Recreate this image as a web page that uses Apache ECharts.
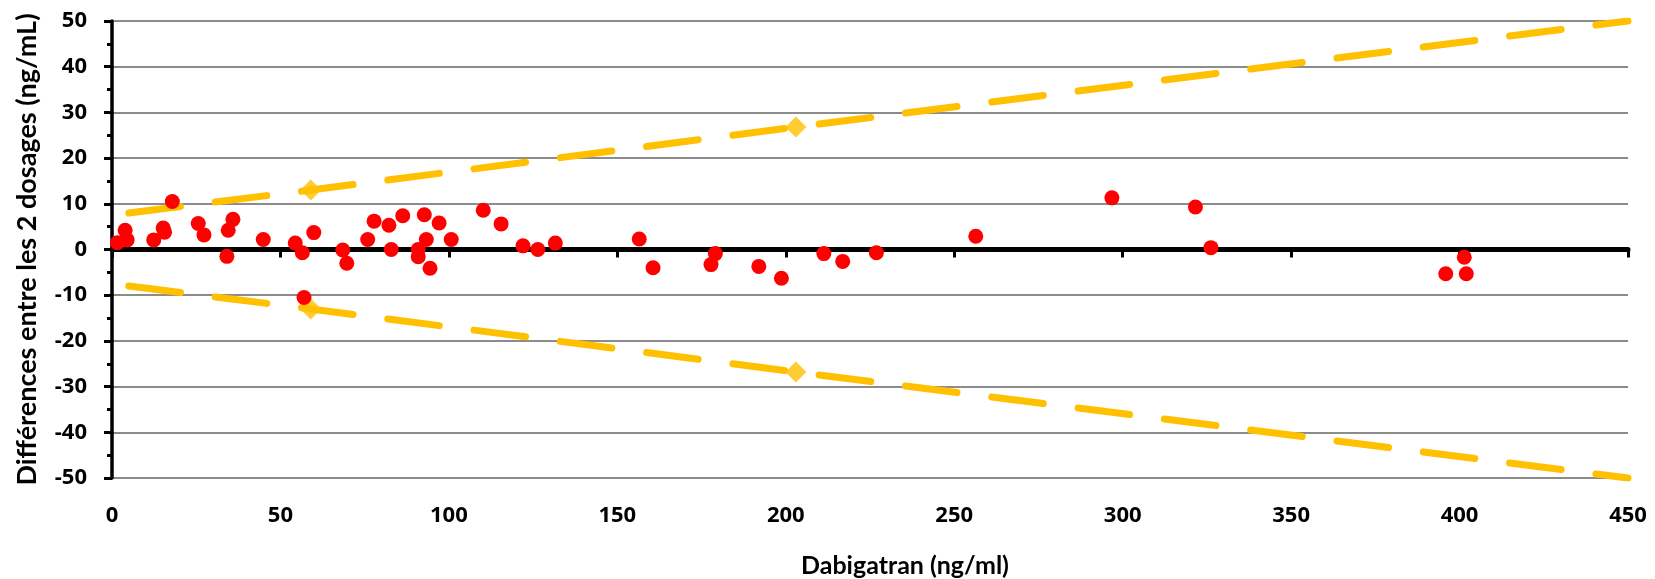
<!DOCTYPE html>
<html>
<head>
<meta charset="utf-8">
<title>Dabigatran - différences</title>
<script src="https://cdn.jsdelivr.net/npm/echarts@6.0.0/dist/echarts.min.js"></script>
<style>
  html, body { margin: 0; padding: 0; background: #fff; }
  #chart { width: 1655px; height: 579px; }
</style>
</head>
<body>
<div id="chart"></div>
<script>
// concentration (ng/ml) et différence entre les 2 dosages
var dabigatran = [1.6, 3.9, 4.5, 12.4, 15.2, 15.6, 17.9, 25.6, 27.3, 34.1, 34.5, 35.9, 44.9,
  54.4, 56.5, 57.0, 59.9, 68.5, 69.7, 75.9, 77.8, 82.2, 82.9, 86.3, 90.9, 90.9, 92.7, 93.3,
  94.4, 97.1, 100.7, 110.2, 115.5, 122.0, 126.4, 131.6, 156.5, 160.6, 177.8, 179.1, 192.0,
  198.7, 211.3, 216.9, 226.9, 256.4, 296.8, 321.6, 326.2, 395.9, 401.4, 402.0];
var differences = [1.5, 4.2, 2.1, 2.1, 4.7, 3.8, 10.5, 5.7, 3.2, -1.5, 4.2, 6.6, 2.2,
  1.4, -0.7, -10.5, 3.7, -0.1, -3.0, 2.2, 6.2, 5.3, 0.0, 7.4, 0.0, -1.6, 7.6, 2.2,
  -4.1, 5.8, 2.2, 8.6, 5.6, 0.8, 0.0, 1.4, 2.3, -4.0, -3.3, -0.9, -3.7,
  -6.3, -0.9, -2.6, -0.7, 2.9, 11.3, 9.3, 0.4, -5.3, -1.7, -5.3];

// limites d'acceptation
var limitX = [5, 59, 203, 450];
var upperLimit = [8.0, 13.0, 26.8, 50];
var lowerLimit = [-8.0, -13.0, -26.8, -50];
var markerX = [59, 203];
var markerUpper = [13.0, 26.8];
var markerLower = [-13.0, -26.8];

function pairs(xs, ys) {
  return xs.map(function (x, i) { return [x, ys[i]]; });
}

var tickFont = "'Open Sans', sans-serif";
var titleFont = "Lato, 'Open Sans', sans-serif";
var yellow = "#FFC000";

var myChart = echarts.init(document.getElementById("chart"));
myChart.setOption({
  animation: false,
  grid: {
    left: 112,
    right: 27,
    top: 21,
    bottom: 101,
    containLabel: false,
    outerBoundsMode: "none",
  },
  xAxis: [
    {
      // labels en bas
      type: "value",
      position: "bottom",
      min: 0,
      max: 450,
      interval: 50,
      name: "Dabigatran (ng/ml)",
      nameLocation: "middle",
      nameGap: 75,
      nameTextStyle: {
        fontFamily: titleFont,
        fontSize: 25,
        fontWeight: "bold",
        color: "#000",
        padding: [0, 0, 0, 70],
      },
      axisLine: { show: false, onZero: false },
      axisTick: { show: false },
      splitLine: { show: false },
      axisLabel: {
        margin: 27,
        fontFamily: tickFont,
        fontSize: 22,
        fontWeight: "bold",
        color: "#000",
      },
    },
    {
      // axe noir sur zéro
      type: "value",
      position: "bottom",
      min: 0,
      max: 450,
      interval: 50,
      axisLine: { show: true, onZero: true, lineStyle: { color: "#000", width: 5 } },
      axisTick: { show: true, length: 8, lineStyle: { color: "#000", width: 3 } },
      axisLabel: { show: false },
      splitLine: { show: false },
    },
  ],
  yAxis: {
    type: "value",
    min: -50,
    max: 50,
    interval: 10,
    name: "Différences entre les 2 dosages (ng/mL)",
    nameLocation: "middle",
    nameGap: 71,
    nameTextStyle: {
      fontFamily: titleFont,
      fontSize: 27,
      fontWeight: "bold",
      color: "#000",
    },
    axisLine: { show: true, onZero: false, lineStyle: { color: "#000", width: 3.5 } },
    axisTick: { show: true, length: 8, lineStyle: { color: "#000", width: 3 } },
    minorTick: { show: true, splitNumber: 2, length: 5, lineStyle: { color: "#000", width: 3 } },
    splitLine: { show: true, lineStyle: { color: "#8c8c8c", width: 2 } },
    axisLabel: {
      margin: 25,
      fontFamily: tickFont,
      fontSize: 22,
      fontWeight: "bold",
      color: "#000",
    },
  },
  series: [
    {
      name: "limite haute",
      type: "line",
      data: pairs(limitX, upperLimit),
      symbol: "none",
      lineStyle: { color: yellow, width: 7, type: [52, 35], cap: "round" },
      z: 2,
    },
    {
      name: "limite basse",
      type: "line",
      data: pairs(limitX, lowerLimit),
      symbol: "none",
      lineStyle: { color: yellow, width: 7, type: [52, 35], cap: "round" },
      z: 2,
    },
    {
      type: "scatter",
      data: pairs(markerX, markerUpper).concat(pairs(markerX, markerLower)),
      symbol: "diamond",
      symbolSize: 21,
      itemStyle: { color: yellow },
      z: 3,
    },
    {
      name: "différences",
      type: "scatter",
      data: pairs(dabigatran, differences),
      symbolSize: 15,
      itemStyle: { color: "#FF0000", opacity: 1 },
      z: 4,
    },
  ],
});
</script>
</body>
</html>
